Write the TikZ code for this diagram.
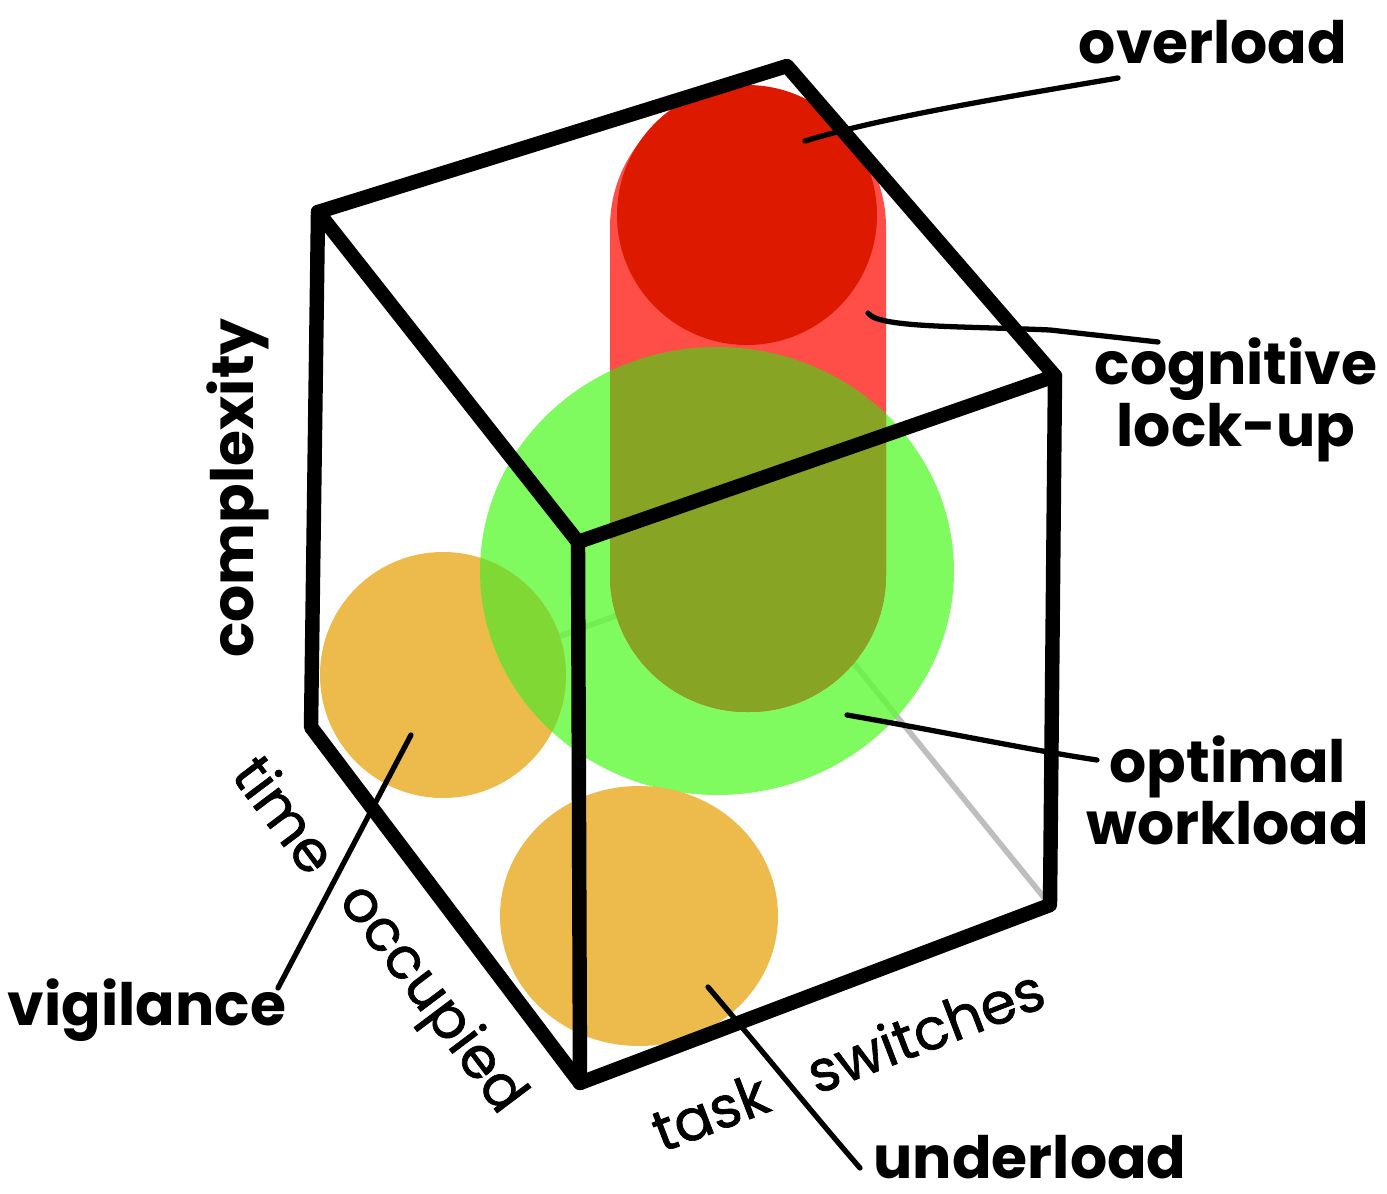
\documentclass[tikz,border=0pt]{standalone}
\usepackage{fontspec}
\setmainfont{Poppins}
\newfontfamily\axfont{Poppins}[FakeBold=1.2]
\begin{document}
\begin{tikzpicture}[x=0.01cm,y=-0.01cm]
\definecolor{grn}{RGB}{96,249,56}
\definecolor{org}{RGB}{237,187,76}
\definecolor{orggrn}{RGB}{128,216,52}
\definecolor{ltred}{RGB}{255,78,72}
\definecolor{olive}{RGB}{136,164,36}
\definecolor{dkred}{RGB}{221,26,0}
\definecolor{hid}{RGB}{190,190,190}
\tikzset{
  edge/.style={draw=black,line width=4.1pt,line join=round,line cap=round},
  hidden/.style={draw=hid,line width=1.6pt,line cap=round},
  ptr/.style={draw=black,line width=1.5pt,line cap=round},
  lbl/.style={inner sep=0pt,font=\fontsize{16.6}{16.5}\selectfont\bfseries},
  axl/.style={inner sep=0pt,font=\axfont\fontsize{16.3}{16}\selectfont},
}
\useasboundingbox (0,0) rectangle (1387,1194);
\fill[white] (0,0) rectangle (1387,1194);
% cube vertices
\coordinate (A) at (318,212);
\coordinate (B) at (787,66);
\coordinate (C) at (1055,376);
\coordinate (D) at (578,542);
\coordinate (G) at (311,727);
\coordinate (E) at (580,1083);
\coordinate (F) at (1050,905);
\coordinate (H) at (770,560);
\coordinate (Hg) at (480,665);
% hidden edges
\draw[hidden] (H) -- (F);
\draw[hidden] (H) -- (Hg);
% optimal workload (green)
\fill[grn,fill opacity=0.8] (717,571) ellipse [x radius=237,y radius=224];
% vigilance (orange)
\fill[org] (443,675) circle [radius=123];
\begin{scope}
  \clip (717,571) ellipse [x radius=237,y radius=224];
  \fill[orggrn] (443,675) circle [radius=123];
\end{scope}
% underload (orange)
\fill[org] (639,916) ellipse [x radius=139,y radius=130];
% cognitive lock-up (light red capsule)
\fill[ltred,rounded corners=1.37cm] (610,90) rectangle (886,712);
\begin{scope}
  \clip (717,571) ellipse [x radius=237,y radius=224];
  \fill[olive,rounded corners=1.37cm] (610,90) rectangle (886,712);
\end{scope}
% overload (dark red)
\fill[dkred] (747,215) circle [radius=130];
% cube edges
\draw[edge] (A) -- (B) -- (C) -- (D) -- cycle;
\draw[edge] (A) -- (G) -- (E) -- (F) -- (C);
\draw[edge] (D) -- (E);
% labels
\node[lbl] (overload) at (1213,42) {overload};
\node[lbl,align=center] (lockup) at (1236,400) {cognitive\\lock-up};
\node[lbl,align=center] (optimal) at (1228,790) {optimal\\workload};
\node[lbl] (underload) at (1030,1157) {underload};
\node[lbl] (vigilance) at (147,1010) {vigilance};
\node[lbl,rotate=90] (complexity) at (238,488) {complexity};
\node[axl,rotate=-53] (time) at (286,814) {time};
\node[axl,rotate=-53] (occupied) at (430,1000) {occupied};
\node[axl,rotate=21] (task) at (710,1112) {task};
\node[axl,rotate=21] (switches) at (925,1030) {switches};
% pointer ends
\coordinate (ov1) at (805,141);
\coordinate (ov2) at (1118,78);
\coordinate (lk1) at (868,313);
\coordinate (lk2) at (1158,342);
\coordinate (op1) at (847,715);
\coordinate (op2) at (1097,760);
\coordinate (vg1) at (411,735);
\coordinate (vg2) at (278,988);
\coordinate (ul1) at (708,987);
\coordinate (ul2) at (860,1168);
\draw[ptr] (ov1) .. controls (880,118) and (1000,98) .. (ov2);
\draw[ptr] (lk1) .. controls (878,328) and (960,326) .. (1050,330) -- (lk2);
\draw[ptr] (op1) .. controls (950,733) and (1030,750) .. (op2);
\draw[ptr] (vg1) -- (vg2);
\draw[ptr] (ul1) .. controls (770,1060) and (810,1110) .. (ul2);
\end{tikzpicture}
\end{document}
